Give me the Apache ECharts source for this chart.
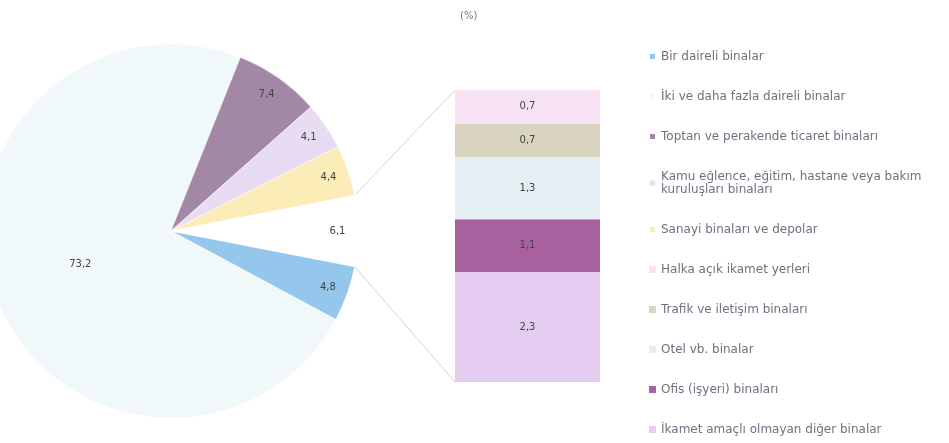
<!DOCTYPE html>
<html>
<head>
<meta charset="utf-8">
<script src="https://cdn.jsdelivr.net/npm/echarts@6/dist/echarts.min.js"></script>
<style>html,body{margin:0;padding:0;background:#fff}#c{width:949px;height:443px}</style>
</head>
<body>
<div id="c"></div>
<script>
// Pie slices (clockwise from the "other" slice)
const pieNames = ['Bir daireli binalar', 'İki ve daha fazla daireli binalar', 'Toptan ve perakende ticaret binaları', 'Kamu eğlence, eğitim, hastane veya bakım\nkuruluşları binaları', 'Sanayi binaları ve depolar'];
const pieValues = [4.8, 73.2, 7.4, 4.1, 4.4];
const pieColors = ['#95c6ec', '#f0f8f9', '#a387a6', '#e8dcf3', '#fcecb8'];
const otherName = 'Diğer';
const otherValue = 6.1;
// Secondary bar (top to bottom)
const barNames = ['Halka açık ikamet yerleri', 'Trafik ve iletişim binaları', 'Otel vb. binalar', 'Ofis (işyeri) binaları', 'İkamet amaçlı olmayan diğer binalar'];
const barValues = [0.7, 0.7, 1.3, 1.1, 2.3];
const barColors = ['#f6e2f4', '#d9d5c0', '#e4eff3', '#a8609f', '#e4ccf0'];

const fmt = v => String(v).replace('.', ',');
const CX = 171, CY = 231, R = 187;
const total = pieValues.reduce((a, b) => a + b, 0) + otherValue;
const half = otherValue / total * 180;

const pieData = pieValues.map((v, i) => ({ name: pieNames[i], value: v, itemStyle: { color: pieColors[i] } }));
pieData.push({ name: otherName, value: otherValue, itemStyle: { color: '#ffffff' } });

const mainData = pieData.map((d, i) => Object.assign({}, d, { label: { show: i === 1 } }));
const overlayData = pieData.map((d, i) => ({ name: d.name, value: d.value, label: { show: i !== 1 } }));

const barSeries = [];
for (let i = barNames.length - 1; i >= 0; i--) {
  barSeries.push({
    type: 'bar', name: barNames[i], stack: 'b', data: [barValues[i]],
    barWidth: '100%', xAxisIndex: 0, yAxisIndex: 0,
    itemStyle: { color: barColors[i] },
    label: { show: true, position: 'inside', formatter: p => fmt(p.value), color: '#444', fontSize: 10, fontFamily: 'DejaVu Sans' },
    emphasis: { disabled: true }, silent: true
  });
}

const legendData = pieNames.concat(barNames);

const chart = echarts.init(document.getElementById('c'), null, { renderer: 'canvas' });
chart.setOption({
  animation: false,
  backgroundColor: '#fff',
  title: { text: '(%)', left: 455, top: 6, textStyle: { fontSize: 10, fontWeight: 'normal', color: '#777', fontFamily: 'DejaVu Sans' } },
  legend: {
    data: legendData, orient: 'vertical', left: 643, top: 45,
    itemWidth: 7, itemHeight: 7, itemGap: 27, icon: 'rect', selectedMode: false,
    textStyle: { fontSize: 12, lineHeight: 13, color: '#707080', fontFamily: 'DejaVu Sans' }
  },
  grid: { left: 455, top: 90, width: 145, height: 292 },
  xAxis: { type: 'category', data: [''], show: false },
  yAxis: { type: 'value', min: 0, max: otherValue, show: false },
  series: [
    {
      type: 'pie', center: [CX, CY], radius: R, startAngle: 360 - half, clockwise: true,
      data: mainData, avoidLabelOverlap: false, silent: true,
      itemStyle: { borderColor: '#fff', borderWidth: 0.5 },
      label: { position: 'inside', formatter: p => fmt(p.value), color: '#444', fontSize: 10, fontFamily: 'DejaVu Sans' },
      labelLine: { show: false }, emphasis: { disabled: true }
    },
    {
      type: 'pie', center: [CX, CY], radius: [140, R], startAngle: 360 - half, clockwise: true,
      data: overlayData, avoidLabelOverlap: false, silent: true,
      itemStyle: { color: 'rgba(0,0,0,0)' },
      label: { position: 'inside', formatter: p => fmt(p.value), color: '#444', fontSize: 10, fontFamily: 'DejaVu Sans' },
      labelLine: { show: false }, emphasis: { disabled: true }
    }
  ].concat(barSeries)
});

// connector lines from the "other" slice edges to the bar corners
const a = half * Math.PI / 180;
const px = CX + R * Math.cos(a);
const pyTop = CY - R * Math.sin(a), pyBot = CY + R * Math.sin(a);
const barTop = chart.convertToPixel({ yAxisIndex: 0 }, otherValue);
const barBot = chart.convertToPixel({ yAxisIndex: 0 }, 0);
const barLeft = 455;
chart.setOption({
  graphic: [
    { type: 'line', shape: { x1: px, y1: pyTop, x2: barLeft, y2: barTop }, style: { stroke: '#d4d4d4', lineWidth: 1 }, silent: true },
    { type: 'line', shape: { x1: px, y1: pyBot, x2: barLeft, y2: barBot }, style: { stroke: '#d4d4d4', lineWidth: 1 }, silent: true }
  ]
});
</script>
</body>
</html>
